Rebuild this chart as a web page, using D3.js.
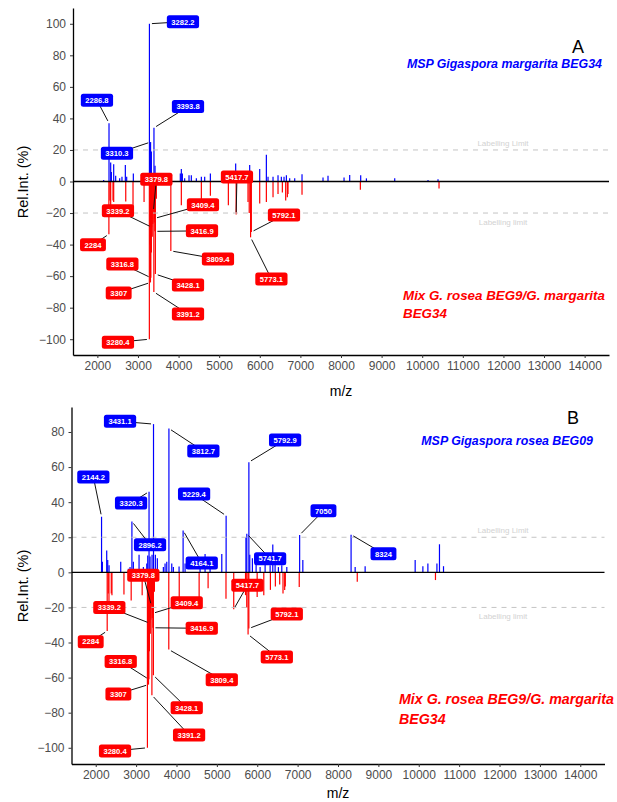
<!DOCTYPE html>
<html>
<head>
<meta charset="utf-8">
<script src="https://cdn.jsdelivr.net/npm/d3@7"></script>
<style>
  body { margin: 0; background: #fff; }
  text { font-family: "Liberation Sans", Arial, sans-serif; }
</style>
</head>
<body>
<script>
// tick labels
const mzTicks = [2000, 3000, 4000, 5000, 6000, 7000, 8000, 9000, 10000, 11000, 12000, 13000, 14000];
const yTicksA = [-100, -80, -60, -40, -20, 0, 20, 40, 60, 80, 100];
const yTicksB = [-100, -80, -60, -40, -20, 0, 20, 40, 60, 80];

// MSP Gigaspora margarita BEG34 (panel A, upward)
const margaritaMz = [2155, 2286.8, 2328, 2345, 2402, 2451, 2549, 2606, 2689, 2722, 2886, 3282.2, 3310.3, 3330, 3393.8, 3420,
  4043, 4068, 4093, 4150, 4257, 4314, 4438, 4561, 4643, 4783, 5406, 5439, 5751, 5792, 5998, 6162, 6203, 6326, 6449, 6531,
  6597, 6655, 6736, 6860, 7040, 7557, 7680, 8075, 8214, 8485, 8626, 9323, 10143, 10389];
const margaritaInt = [1, 37, 12, 6, 11, 3.6, 2, 3, 10.5, 3, 5, 100, 25, 19, 34, 10,
  5, 8, 5, 2, 4, 4, 2, 3, 3, 5, 11.4, 5, 10.5, 5, 8, 17, 3, 3, 4, 3,
  3, 4, 2, 2, 4.6, 2.5, 3.6, 2.5, 4.2, 4, 2, 2, 1, 1.5];

// MSP Gigaspora rosea BEG09 (panel B, upward)
const roseaMz = [2144.2, 2165, 2272, 2297, 2330, 2619, 2808, 2850, 2896.2, 2932, 3073, 3180, 3264, 3288, 3320.3, 3345, 3395,
  3431.1, 3477, 3526, 3675, 3717, 3759, 3812.7, 3883, 3923, 4064, 4164.1, 4213, 4584, 4708, 4832, 5122, 5229.4, 5720,
  5741.7, 5792.9, 5815, 5880, 5972, 6071, 6195, 6319, 6385, 6442, 6524, 6608, 6732, 7050, 7129, 8324, 8425, 8672, 9911,
  10102, 10226, 10450, 10513, 10613];
const roseaInt = [31.7, 6, 12.5, 7, 4, 6, 2, 3, 29, 6, 10, 3, 5, 9.6, 46, 9, 10,
  84.5, 10, 8, 3, 5, 6, 82, 5, 3, 3.4, 23.8, 5, 6, 10.5, 8, 10.5, 32.3, 20,
  22, 62.8, 10, 8, 5, 3, 5, 4, 15.8, 5, 3, 4, 3, 21.3, 7, 21.5, 3, 3.5, 7,
  3.5, 5, 5, 16, 3.5];

// Mix G. rosea BEG9 / G. margarita BEG34 (both panels, downward)
const mixMz = [2284, 2310, 2328, 2385, 2402, 2699, 2878, 3150, 3280.4, 3295, 3307, 3316.8, 3330, 3339.2, 3352, 3365, 3379.8,
  3391.2, 3400, 3409.4, 3416.9, 3428.1, 3453, 3809.4, 4068, 4561, 4783, 5226, 5417.7, 5710, 5740, 5773.1, 5792.1, 5998,
  6162, 6326, 6449, 6556, 6638, 6679, 6695, 7040, 8477, 10414];
const mixInt = [33.4, 12, 18.4, 12, 13, 12.7, 16, 13, 100, 40, 64, 61, 45, 29, 35, 27, 19,
  70, 26, 23.4, 31.6, 58.7, 11, 44, 15, 14, 9, 15, 21, 13, 20, 35.4, 32, 14,
  13, 10, 8, 7, 12, 10, 8, 8.4, 5.3, 4.4];

// label anchors: [peak m/z, label m/z, label Rel.Int.]
const labelsBlueA = [[3282.2, 4108, 101.3], [2286.8, 1990, 51.5], [3393.8, 4232, 47.5], [3310.3, 2483, 17.9]];
const labelsRedA = [[3379.8, 3453, 1.5], [5417.7, 5438, 2.9], [3339.2, 2507, -18.6], [3409.4, 4601, -14.8],
  [3416.9, 4577, -31.3], [2284, 1892, -40.1], [3809.4, 4970, -49.2], [3316.8, 2616, -52.3], [5792.1, 6596, -21.3],
  [5773.1, 6286, -61.8], [3428.1, 4232, -65.6], [3307, 2525, -70.7], [3391.2, 4232, -84], [3280.4, 2507, -101.9]];
const labelsBlueB = [[3431.1, 2602, 86.1], [3812.7, 4666, 69.1], [5792.9, 6690, 75.4], [2144.2, 1941, 54.4],
  [3320.3, 2875, 39.5], [5229.4, 4436, 44.6], [2896.2, 3345, 15.7], [4164.1, 4626, 5.3], [5741.7, 6319, 7.8],
  [7050, 7640, 35.1], [8324, 9126, 10.6]];
const labelsRedB = [[3379.8, 3179, -1.7], [5417.7, 5756, -7.4], [3339.2, 2337, -20], [3409.4, 4254, -17.4],
  [3416.9, 4626, -31.9], [2284, 1876, -39.5], [3316.8, 2619, -50.8], [3809.4, 5122, -61.2], [5792.1, 6732, -23.8],
  [5773.1, 6485, -48.3], [3307, 2561, -69.3], [3428.1, 4254, -77.2], [3391.2, 4312, -92.7], [3280.4, 2478, -101.8]];

const BLUE = "#0000ff", RED = "#ff0000";

const svg = d3.select("body").append("svg")
    .attr("width", 617)
    .attr("height", 802);

function drawPanel(o) {
    const x = d3.scaleLinear().domain([1400, 14600]).range([o.left, o.right]);
    const y = d3.scaleLinear().domain(o.yDomain).range([o.bottom, o.top]);
    const g = svg.append("g");

    const up = o.upMz.map((m, i) => ({ mz: m, v: o.upInt[i] }));
    const down = mixMz.map((m, i) => ({ mz: m, v: -mixInt[i] }));

    g.append("g").selectAll("line").data(up).enter().append("line")
        .attr("x1", d => x(d.mz)).attr("x2", d => x(d.mz))
        .attr("y1", y(0)).attr("y2", d => y(d.v))
        .attr("stroke", BLUE).attr("stroke-width", 1.2);
    g.append("g").selectAll("line").data(down).enter().append("line")
        .attr("x1", d => x(d.mz)).attr("x2", d => x(d.mz))
        .attr("y1", y(0)).attr("y2", d => y(d.v))
        .attr("stroke", RED).attr("stroke-width", 1.2);

    // zero line
    g.append("line").attr("x1", o.left).attr("x2", o.right)
        .attr("y1", y(0)).attr("y2", y(0))
        .attr("stroke", "#000").attr("stroke-width", 1.3);

    // labelling limits
    [20, -20].forEach(v => {
        g.append("line").attr("x1", o.left).attr("x2", o.right)
            .attr("y1", y(v)).attr("y2", y(v))
            .attr("stroke", "#c4c4c4").attr("stroke-width", 1).attr("stroke-dasharray", "5,5");
    });
    g.append("text").attr("x", 503).attr("y", y(20) - 4).attr("text-anchor", "middle")
        .attr("font-size", 8).attr("fill", "#d2d2d2").text("Labelling Limit");
    g.append("text").attr("x", 503).attr("y", y(-20) + 12).attr("text-anchor", "middle")
        .attr("font-size", 8).attr("fill", "#d2d2d2").text("Labelling limit");

    // axes
    const xa = g.append("g").attr("transform", `translate(0,${o.bottom})`)
        .call(d3.axisBottom(x).tickValues(mzTicks).tickSize(3).tickSizeOuter(0).tickPadding(3).tickFormat(d3.format("d")));
    const ya = g.append("g").attr("transform", `translate(${o.left},0)`)
        .call(d3.axisLeft(y).tickValues(o.yTicks).tickSize(3).tickSizeOuter(0).tickPadding(4).tickFormat(d3.format("d")));
    [xa, ya].forEach(a => {
        a.select(".domain").attr("stroke", "#000").attr("stroke-width", 1.3);
        a.selectAll(".tick line").attr("stroke", "#333");
        a.selectAll(".tick text").attr("font-size", 12).attr("fill", "#4d4d4d")
            .attr("font-family", "Liberation Sans, Arial, sans-serif");
    });

    g.append("text").attr("x", (o.left + o.right) / 2).attr("y", o.titleY)
        .attr("text-anchor", "middle").attr("font-size", 14).text("m/z");
    g.append("text").attr("transform", `translate(28,${o.yTitleY}) rotate(-90)`)
        .attr("text-anchor", "middle").attr("font-size", 14.5).text("Rel.Int. (%)");

    // repelled labels
    function labels(list, peaks, fill) {
        list.forEach(([pm, lm, lv]) => {
            const p = peaks.find(d => d.mz === pm);
            const px = x(p.mz), py = y(p.v);
            const lx = x(lm), ly = y(lv);
            const dx = lx - px, dy = ly - py, len = Math.hypot(dx, dy);
            const gap = 2.5;
            if (len > 14) {
                g.append("line")
                    .attr("x1", px + dx / len * gap).attr("y1", py + dy / len * gap)
                    .attr("x2", lx).attr("y2", ly)
                    .attr("stroke", "#111").attr("stroke-width", 1);
            }
            const lg = g.append("g");
            const r = lg.append("rect");
            const t = lg.append("text").attr("x", lx).attr("y", ly + 2.8)
                .attr("text-anchor", "middle").attr("font-size", 7.6).attr("font-weight", "bold")
                .attr("fill", "#fff").text(String(pm));
            const w = t.node().getComputedTextLength() + 9;
            r.attr("x", lx - w / 2).attr("y", ly - 6.5).attr("width", w).attr("height", 13)
                .attr("rx", 2.5).attr("fill", fill);
        });
    }
    labels(o.blueLabels, up, BLUE);
    labels(o.redLabels, down, RED);

    // panel letter and sample names
    g.append("text").attr("x", o.letterX).attr("y", o.letterY).attr("text-anchor", "middle")
        .attr("font-size", 18).text(o.letter);
    g.append("text").attr("x", o.subX).attr("y", o.subY).attr("text-anchor", "end")
        .attr("font-size", 12.4).attr("font-weight", "bold").attr("font-style", "italic")
        .attr("fill", BLUE).text(o.subtitle);
    const mix = g.append("text").attr("x", o.mixX).attr("y", o.mixY)
        .attr("font-family", "Lato, sans-serif").attr("font-size", 15)
        .attr("font-style", "italic").attr("font-weight", "bold").attr("fill", RED);
    const l1 = mix.append("tspan").attr("x", o.mixX).text("Mix G. rosea BEG9/G. margarita");
    // shrink to the width the caption takes in the figure
    const fs = 15 * o.mixW / l1.node().getComputedTextLength();
    mix.attr("font-size", fs);
    mix.append("tspan").attr("x", o.mixX).attr("dy", o.lineGap).text("BEG34");
}

drawPanel({
    left: 73, right: 609, top: 8, bottom: 355, yDomain: [-110, 110], yTicks: yTicksA,
    upMz: margaritaMz, upInt: margaritaInt, blueLabels: labelsBlueA, redLabels: labelsRedA,
    letter: "A", letterX: 578, letterY: 53, titleY: 396, yTitleY: 182,
    subtitle: "MSP Gigaspora margarita BEG34", subX: 602, subY: 68,
    mixX: 403, mixY: 300, mixW: 202, lineGap: 18
});
drawPanel({
    left: 71.5, right: 604.5, top: 407, bottom: 764, yDomain: [-109.25, 94.25], yTicks: yTicksB,
    upMz: roseaMz, upInt: roseaInt, blueLabels: labelsBlueB, redLabels: labelsRedB,
    letter: "B", letterX: 573, letterY: 424, titleY: 798, yTitleY: 586,
    subtitle: "MSP Gigaspora rosea BEG09", subX: 593, subY: 445,
    mixX: 399, mixY: 704, mixW: 215, lineGap: 20
});
</script>
</body>
</html>
